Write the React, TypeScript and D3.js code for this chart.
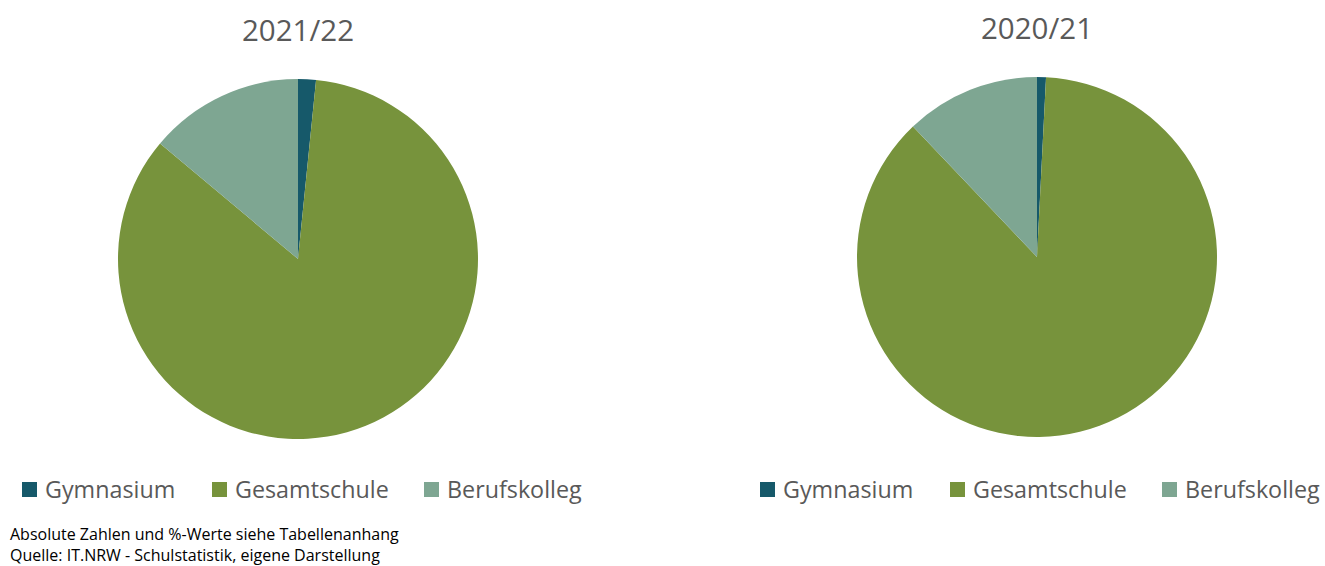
import React from "react";
import * as d3 from "d3";

const categories = ["Gymnasium", "Gesamtschule", "Berufskolleg"];
const colors = ["#16596A", "#77933C", "#7EA692"];
const titles = ["2021/22", "2020/21"];
const values2122 = [1.6, 84.5, 13.9];
const values2021 = [0.8, 87.1, 12.1];
const footnotes = [
  "Absolute Zahlen und %-Werte siehe Tabellenanhang",
  "Quelle: IT.NRW - Schulstatistik, eigene Darstellung",
];

const W = 1325;
const H = 566;
const FONT = "'Open Sans', sans-serif";

const charts = [
  { title: titles[0], values: values2122, cx: 298, cy: 259, titleY: 41, legendX: [22, 212, 424] },
  { title: titles[1], values: values2021, cx: 1037, cy: 257, titleY: 39, legendX: [760, 950, 1162] },
];

function Pie({ title, values, cx, cy, titleY, legendX }: any) {
  const r = 180;
  const pie = d3.pie<number>().sort(null).value((d) => d);
  const arc = d3.arc<d3.PieArcDatum<number>>().innerRadius(0).outerRadius(r);
  const arcs = pie(values);
  return (
    <g>
      <text x={cx} y={titleY} textAnchor="middle" fontSize={29.5} fill="#595959" fontFamily={FONT}>
        {title}
      </text>
      <g transform={`translate(${cx},${cy})`}>
        {arcs.map((a, i) => (
          <path key={i} d={arc(a) || ""} fill={colors[i]} />
        ))}
      </g>
      <g>
        {categories.map((c, i) => (
          <g key={c} transform={`translate(${legendX[i]},482)`}>
            <rect x={0} y={0} width={15} height={15} fill={colors[i]} />
            <text x={23} y={15.5} fontSize={23.3} fill="#595959" fontFamily={FONT}>
              {c}
            </text>
          </g>
        ))}
      </g>
    </g>
  );
}

export default function App() {
  return (
    <svg
      width={W}
      height={H}
      style={{ position: "absolute", left: 0, top: 0, background: "#fff" }}
    >
      {charts.map((c) => (
        <Pie key={c.title} {...c} />
      ))}
      {footnotes.map((t, i) => (
        <text key={i} x={10} y={540 + i * 21} fontSize={16} fill="#000" fontFamily={FONT}>
          {t}
        </text>
      ))}
    </svg>
  );
}
